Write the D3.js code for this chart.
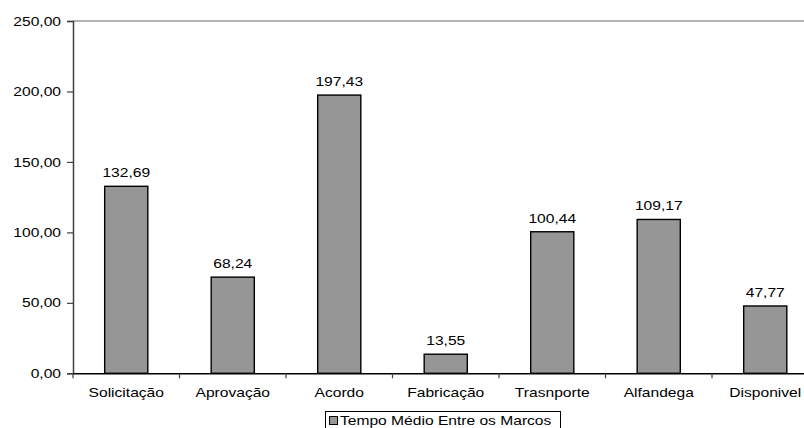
<!DOCTYPE html>
<html>
<head>
<meta charset="utf-8">
<script src="https://cdn.jsdelivr.net/npm/d3@7"></script>
<style>
  html, body { margin: 0; padding: 0; background: #fff; }
  svg { display: block; overflow: hidden; }
  text { font-family: Arial, "Liberation Sans", sans-serif; fill: #000; }
</style>
</head>
<body>
<svg id="chart" width="804" height="428"></svg>
<script>
// Mean time between milestones, per stage
const categories = ["Solicitação", "Aprovação", "Acordo", "Fabricação", "Trasnporte", "Alfandega", "Disponivel"];
const values = [132.69, 68.24, 197.43, 13.55, 100.44, 109.17, 47.77];
const yTicks = [0, 50, 100, 150, 200, 250];
const seriesName = "Tempo Médio Entre os Marcos";

const W = 804, H = 428;
const plot = { left: 73, right: 818.5, top: 21, bottom: 373.3 };
const FS = 13, SX = 1.2; // label font size and horizontal stretch

const ptBR = d3.formatLocale({ decimal: ",", thousands: ".", grouping: [3], currency: ["R$", ""] });
const fmt = ptBR.format(".2f");

const svg = d3.select("#chart");

const x = d3.scaleBand().domain(categories).range([plot.left, plot.right]).paddingInner(0).paddingOuter(0);
const y = d3.scaleLinear().domain([0, 250]).range([plot.bottom, plot.top]);
const barW = x.bandwidth() * 0.405;

// stretched text helper
function label(g, tx, ty, str, anchor) {
  return g.append("text")
    .attr("transform", `translate(${tx},${ty}) scale(${SX},1)`)
    .attr("text-anchor", anchor)
    .style("font-size", FS + "px")
    .text(str);
}

// top border of the plot area
svg.append("line")
  .attr("x1", plot.left).attr("x2", W)
  .attr("y1", y(250)).attr("y2", y(250))
  .attr("stroke", "#b4b4b4").attr("stroke-width", 2);

// bars
svg.append("g").selectAll("rect")
  .data(values)
  .join("rect")
  .attr("x", (d, i) => x(categories[i]) + (x.bandwidth() - barW) / 2)
  .attr("y", d => y(d))
  .attr("width", barW)
  .attr("height", d => y(0) - y(d))
  .attr("fill", "#969696")
  .attr("stroke", "#000")
  .attr("stroke-width", 1.4);

// value labels
const vl = svg.append("g");
values.forEach((v, i) => {
  label(vl, x(categories[i]) + x.bandwidth() / 2, y(v) - 9, fmt(v), "middle");
});

// y axis
const yAxis = d3.axisLeft(y).tickValues(yTicks).tickSize(6).tickPadding(5).tickFormat(fmt);
const gy = svg.append("g").attr("transform", `translate(${plot.left},0)`).call(yAxis);
gy.select(".domain").attr("stroke", "#404040").attr("stroke-width", 1.5);
gy.selectAll(".tick line").attr("stroke", "#404040").attr("stroke-width", 1.2);
gy.selectAll(".tick text").remove();
yTicks.forEach(t => {
  label(gy, -12, y(t) + 4.6, fmt(t), "end");
});

// x axis: ticks between categories
const gx = svg.append("g").attr("transform", `translate(0,${plot.bottom})`);
const xAxis = d3.axisBottom(x).tickSize(0).tickFormat("");
gx.call(xAxis);
gx.select(".domain").attr("stroke", "#000").attr("stroke-width", 1.5);
gx.selectAll(".tick").remove();
const bounds = categories.map(c => x(c)).concat([plot.right]);
gx.selectAll("line.sep")
  .data(bounds)
  .join("line")
  .attr("class", "sep")
  .attr("x1", d => d).attr("x2", d => d)
  .attr("y1", 0).attr("y2", 5)
  .attr("stroke", "#404040").attr("stroke-width", 1.2);
categories.forEach(c => {
  label(gx, x(c) + x.bandwidth() / 2, 24, c, "middle");
});

// legend
const lg = svg.append("g");
lg.append("rect")
  .attr("x", 325.5).attr("y", 411.5).attr("width", 235).attr("height", 22)
  .attr("fill", "#fff").attr("stroke", "#000").attr("stroke-width", 1);
lg.append("rect")
  .attr("x", 329.5).attr("y", 416.5).attr("width", 8).attr("height", 8)
  .attr("fill", "#969696").attr("stroke", "#000").attr("stroke-width", 1);
label(lg, 340, 425, seriesName, "start");
</script>
</body>
</html>
